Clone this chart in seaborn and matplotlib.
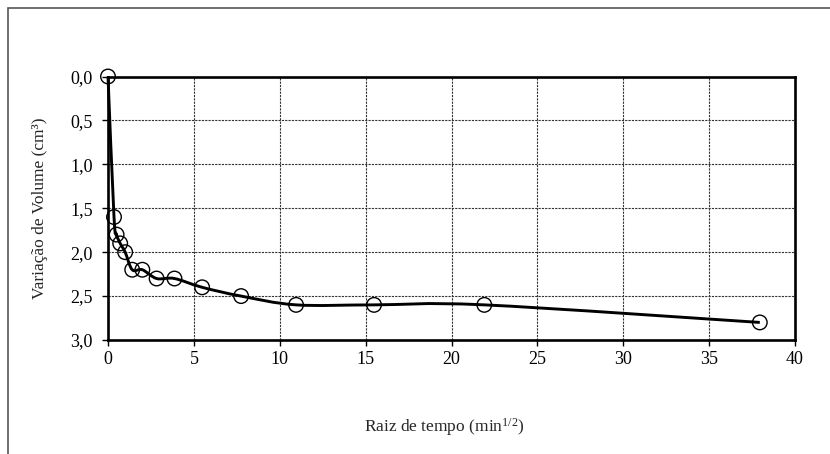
import matplotlib
matplotlib.use("Agg")
import matplotlib.pyplot as plt
from matplotlib.path import Path
from matplotlib.patches import PathPatch, Rectangle
from matplotlib.ticker import FuncFormatter
import seaborn as sns
import numpy as np
import pandas as pd

# data: square root of time (min^1/2) and volume change (cm3)
raiz_tempo = [0.0, 0.35, 0.5, 0.71, 1.0, 1.41, 2.0, 2.83, 3.87, 5.48, 7.75, 10.95, 15.49, 21.91, 37.95]
variacao_volume = [0.0, 1.6, 1.8, 1.9, 2.0, 2.2, 2.2, 2.3, 2.3, 2.4, 2.5, 2.6, 2.6, 2.6, 2.8]
x_ticks = [0, 5, 10, 15, 20, 25, 30, 35, 40]
y_ticks = [0.0, 0.5, 1.0, 1.5, 2.0, 2.5, 3.0]

df = pd.DataFrame({"x": raiz_tempo, "y": variacao_volume})

sns.set_style("white")
plt.rcParams["font.family"] = ["Liberation Serif", "DejaVu Serif"]
plt.rcParams["mathtext.fontset"] = "custom"
plt.rcParams["mathtext.rm"] = "Liberation Serif"
plt.rcParams["mathtext.it"] = "Liberation Serif:italic"
plt.rcParams["font.size"] = 13

fig = plt.figure(figsize=(8.3, 4.54), dpi=100)
ax = fig.add_axes([108 / 830, 1 - 340 / 454, (795 - 108) / 830, (340 - 76.5) / 454])

# outer chart frame (left and top visible)
fig.patches.append(Rectangle((8 / 830, -0.1), 1.2, 1 - 8 / 454 + 0.1, transform=fig.transFigure,
                             fill=False, edgecolor="#555555", linewidth=1.2))

# smoothed line (Excel-style Catmull-Rom Bezier)
pts = np.column_stack([df["x"].to_numpy(), df["y"].to_numpy()])
verts = [tuple(pts[0])]
codes = [Path.MOVETO]
n = len(pts)
for i in range(n - 1):
    p0 = pts[i - 1] if i > 0 else pts[i]
    p1 = pts[i]
    p2 = pts[i + 1]
    p3 = pts[i + 2] if i + 2 < n else pts[i + 1]
    c1 = p1 + (p2 - p0) / 6.0
    c2 = p2 - (p3 - p1) / 6.0
    verts += [tuple(c1), tuple(c2), tuple(p2)]
    codes += [Path.CURVE4] * 3
ax.add_patch(PathPatch(Path(verts, codes), fill=False, edgecolor="black", linewidth=2.1,
                       zorder=3, clip_on=False))

sns.scatterplot(data=df, x="x", y="y", ax=ax, marker="o", s=110, facecolor="none",
                edgecolor="black", linewidth=1.0, zorder=4, clip_on=False, legend=False)

ax.set_xlim(0, 40)
ax.set_ylim(3.0, 0.0)
ax.set_xticks(x_ticks)
ax.set_yticks(y_ticks)
ax.yaxis.set_major_formatter(FuncFormatter(lambda v, p: f"{v:.1f}".replace(".", ",")))
ax.xaxis.set_major_formatter(FuncFormatter(lambda v, p: f"{v:.0f}"))

ax.grid(True, color="#333333", linestyle=(0, (2.0, 1.0)), linewidth=0.8)
ax.set_axisbelow(True)
for sp in ax.spines.values():
    sp.set_visible(True)
    sp.set_color("black")
    sp.set_linewidth(1.9)

ax.tick_params(axis="both", direction="out", length=4, width=1.0, color="black",
               labelsize=13, labelcolor="black")
ax.tick_params(axis="x", bottom=True, pad=4)
ax.tick_params(axis="y", left=True, pad=7)

ax.set_xlabel("Raiz de tempo (min$^{1/2}$)", fontsize=12.5)
ax.set_ylabel("Variação de Volume (cm³)", fontsize=12.5)
ax.xaxis.set_label_coords(0.49, -0.29)
ax.yaxis.set_label_coords(-0.087, 0.5)

fig.savefig("out.png", dpi=100)
